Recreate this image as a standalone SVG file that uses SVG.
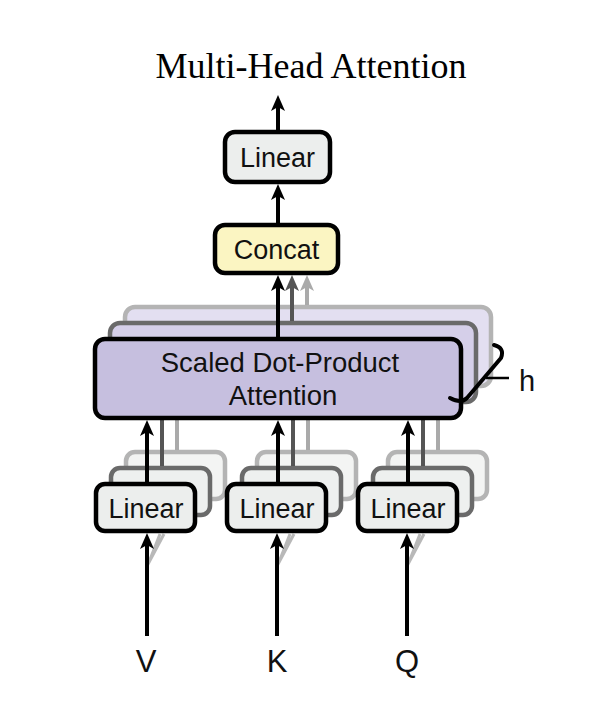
<svg xmlns="http://www.w3.org/2000/svg" width="590" height="712" viewBox="0 0 590 712">
<defs>
<style>
.lbl{font-family:"Liberation Sans",Arial,Helvetica,sans-serif;font-size:27px;fill:#111;text-anchor:middle}
.big{font-size:31px}
.title{font-family:"Liberation Serif","Times New Roman",serif;font-size:36px;fill:#000;text-anchor:middle}
.box{stroke:#000;stroke-width:4.5}
.lin{fill:#eceeed}
.ln{stroke:#000;stroke-width:4;fill:none}
.ln2{stroke:#555;stroke-width:4;fill:none}
.ln3{stroke:#aaa;stroke-width:4;fill:none}
</style>
<marker id="ah" viewBox="0 0 16 14" refX="8" refY="7" markerWidth="16" markerHeight="14" markerUnits="userSpaceOnUse" orient="auto"><path d="M0,0 L16,7 L0,14 L4,7 z" fill="#000"/></marker>
<marker id="ah2" viewBox="0 0 16 14" refX="8" refY="7" markerWidth="16" markerHeight="14" markerUnits="userSpaceOnUse" orient="auto"><path d="M0,0 L16,7 L0,14 L4,7 z" fill="#555"/></marker>
<marker id="ah3" viewBox="0 0 16 14" refX="8" refY="7" markerWidth="16" markerHeight="14" markerUnits="userSpaceOnUse" orient="auto"><path d="M0,0 L16,7 L0,14 L4,7 z" fill="#aaa"/></marker>
</defs>
<rect width="590" height="712" fill="#fff"/>
<text class="title" x="311" y="78">Multi-Head Attention</text>

<!-- back copies of SDPA -->
<g id="sdpa-copies">
<rect x="125" y="307" width="366" height="79" rx="10" fill="#e3dff1" stroke="#b4b4b4" stroke-width="4.5"/>
<rect x="110" y="323" width="366" height="79" rx="10" fill="#d5cfe9" stroke="#6a6a6a" stroke-width="4.5"/>
</g>

<!-- back copies of Linear -->
<g id="linear-copies">
<rect x="126" y="452" width="99" height="47" rx="9" fill="#f3f4f3" stroke="#b4b4b4" stroke-width="4.5"/>
<rect x="111" y="468" width="99" height="47" rx="9" fill="#eef0ef" stroke="#6a6a6a" stroke-width="4.5"/>
<rect x="257" y="452" width="99" height="47" rx="9" fill="#f3f4f3" stroke="#b4b4b4" stroke-width="4.5"/>
<rect x="242" y="468" width="99" height="47" rx="9" fill="#eef0ef" stroke="#6a6a6a" stroke-width="4.5"/>
<rect x="388" y="452" width="99" height="47" rx="9" fill="#f3f4f3" stroke="#b4b4b4" stroke-width="4.5"/>
<rect x="373" y="468" width="99" height="47" rx="9" fill="#eef0ef" stroke="#6a6a6a" stroke-width="4.5"/>
</g>

<g id="connectors">
<line class="ln" x1="278" y1="130" x2="278" y2="103" marker-end="url(#ah)"/>
<line class="ln" x1="278" y1="223" x2="278" y2="192" marker-end="url(#ah)"/>
<line class="ln3" x1="307" y1="305" x2="307" y2="283" marker-end="url(#ah3)"/>
<line class="ln2" x1="292" y1="321" x2="292" y2="283" marker-end="url(#ah2)"/>
<line class="ln" x1="278" y1="337" x2="278" y2="283" marker-end="url(#ah)"/>
<line class="ln3" x1="177" y1="450" x2="177" y2="418"/>
<line class="ln2" x1="162" y1="466" x2="162" y2="418"/>
<line class="ln" x1="147" y1="482" x2="147" y2="428" marker-end="url(#ah)"/>
<line class="ln3" x1="308" y1="450" x2="308" y2="418"/>
<line class="ln2" x1="293" y1="466" x2="293" y2="418"/>
<line class="ln" x1="278" y1="482" x2="278" y2="428" marker-end="url(#ah)"/>
<line class="ln3" x1="438" y1="450" x2="438" y2="418"/>
<line class="ln2" x1="423" y1="466" x2="423" y2="418"/>
<line class="ln" x1="408" y1="482" x2="408" y2="428" marker-end="url(#ah)"/>
<path d="M147,566 L164,534 M149,562 L160,534" stroke="#9a9a9a" stroke-width="3" fill="none" opacity="0.7"/>
<path d="M277,566 L294,534 M279,562 L290,534" stroke="#9a9a9a" stroke-width="3" fill="none" opacity="0.7"/>
<path d="M407,566 L424,534 M409,562 L420,534" stroke="#9a9a9a" stroke-width="3" fill="none" opacity="0.7"/>
<line class="ln" x1="147" y1="636" x2="147" y2="541" marker-end="url(#ah)"/>
<line class="ln" x1="277" y1="636" x2="277" y2="541" marker-end="url(#ah)"/>
<line class="ln" x1="407" y1="636" x2="407" y2="541" marker-end="url(#ah)"/>
</g>

<g id="linear-out">
<rect class="box lin" x="225" y="132" width="105" height="50" rx="10"/>
<text class="lbl" x="277.5" y="167">Linear</text>
</g>
<g id="concat">
<rect class="box" x="215" y="225" width="123" height="48" rx="10" fill="#fbf5c2"/>
<text class="lbl" x="276.5" y="259">Concat</text>
</g>
<g id="sdpa">
<rect class="box" x="95" y="339" width="366" height="79" rx="10" fill="#c6bfdf"/>
<text class="lbl" x="280" y="372" style="font-size:27.5px">Scaled Dot-Product</text>
<text class="lbl" x="283" y="405" style="font-size:27.5px">Attention</text>
</g>
<g id="brace">
<path d="M494,345 Q505,348 501,358 L467,398 Q461,404 450,398" stroke="#000" stroke-width="4" fill="none" stroke-linecap="round"/>
<line x1="486" y1="378" x2="509" y2="378" stroke="#000" stroke-width="2.5"/>
<text class="lbl" x="527" y="391" style="font-size:29px">h</text>
</g>
<g id="linear-v">
<rect class="box lin" x="96" y="484" width="99" height="47" rx="9"/>
<text class="lbl" x="146" y="518">Linear</text>
</g>
<g id="linear-k">
<rect class="box lin" x="227" y="484" width="99" height="47" rx="9"/>
<text class="lbl" x="277" y="518">Linear</text>
</g>
<g id="linear-q">
<rect class="box lin" x="358" y="484" width="99" height="47" rx="9"/>
<text class="lbl" x="408" y="518">Linear</text>
</g>
<g id="inputs">
<text class="lbl big" x="146" y="672">V</text>
<text class="lbl big" x="277" y="672">K</text>
<text class="lbl big" x="407" y="672">Q</text>
</g>
</svg>
